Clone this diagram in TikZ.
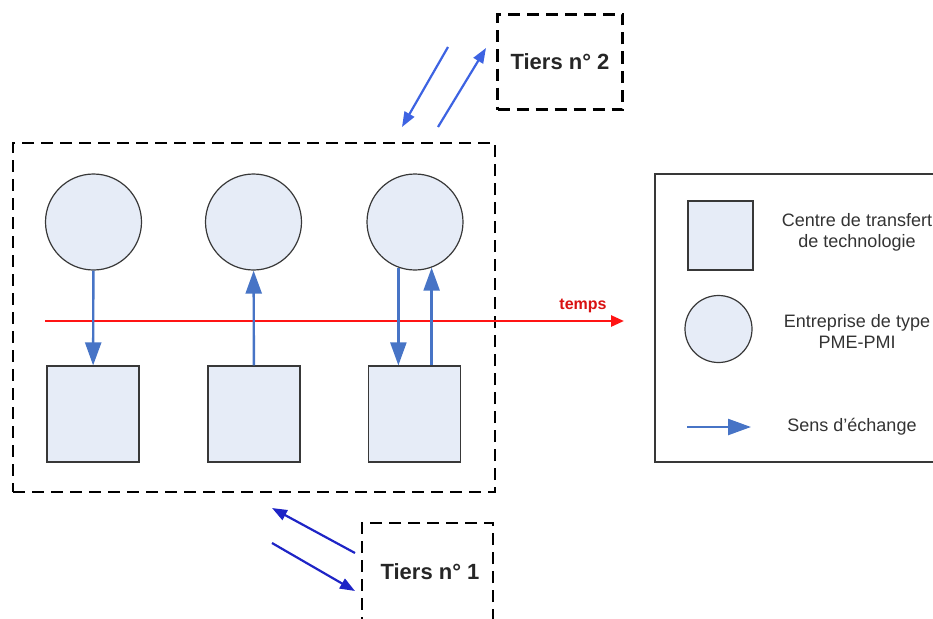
\documentclass[tikz,border=0pt]{standalone}
\usepackage{fontspec}
\setmainfont{Liberation Sans}
\usetikzlibrary{arrows.meta,positioning}

\definecolor{fond}{rgb}{0.902,0.925,0.969}
\definecolor{bord}{rgb}{0.22,0.22,0.22}
\definecolor{fleche}{rgb}{0.278,0.455,0.776}
\definecolor{vif}{rgb}{0.239,0.388,0.886}
\definecolor{fonce}{rgb}{0.118,0.141,0.776}
\definecolor{rouge}{rgb}{1,0.08,0.08}

\tikzset{
	pme/.style={circle, draw=bord, fill=fond, line width=1.2pt, minimum size=96pt, inner sep=0pt},
	centre/.style={rectangle, draw=bord, fill=fond, line width=1.2pt, minimum width=92pt, minimum height=96pt, inner sep=0pt},
	cadre/.style={rectangle, draw=black, line width=2.8pt, dash pattern=on 12pt off 7pt, inner sep=0pt},
	tiers/.style={cadre, font=\fontsize{22}{24}\selectfont\bfseries, text=black!85},
	echange/.style={draw=fleche, line width=2.4pt, -{Triangle[length=23pt, width=16pt]}},
	renvoi/.style={line width=2.2pt, -{Triangle[length=15pt, width=11pt]}},
	legtxt/.style={align=center, font=\fontsize{18}{21}\selectfont, text=black!80}
}

\begin{document}
\begin{tikzpicture}[x=1pt, y=-1pt]
	\useasboundingbox (0,0) rectangle (933,618);

	% the zone with the firms and the centres
	\node[cadre, minimum width=482pt, minimum height=349pt] (zone) at (254,317.5) {};

	\node[pme] (e1) at (93.5,222) {};
	\node[pme] (e2) at (253.5,222) {};
	\node[pme] (e3) at (415,222) {};

	\node[centre] (c1) at (93,414) {};
	\node[centre] (c2) at (254,414) {};
	\node[centre] (c3) at (414.5,414) {};

	% the time line
	\coordinate (t0) at (45,321);
	\coordinate (t1) at (624,321);
	\draw[rouge, line width=2.6pt, -{Triangle[length=13pt, width=11pt]}] (t0) -- (t1);
	\node[text=rouge!85!black, font=\fontsize{16}{18}\selectfont\bfseries] (temps) at (583,306) {temps};

	% exchanges inside the zone
	\draw[echange] (e1) -- (c1);
	\draw[echange] (c2) -- (e2);
	\draw[echange] (e3.-110) -- (e3.-110 |- c3.north);
	\draw[echange] (c3.north -| e3.-70) -- (e3.-70);

	% the two outside parties
	\node[tiers, minimum width=125pt, minimum height=95pt] (t2) at (560,62) {Tiers n° 2};
	\node[tiers, minimum width=131pt, minimum height=100pt] (t1b) at (427.5,573) {};
	\node[font=\fontsize{22}{24}\selectfont\bfseries, text=black!85] (lab1) at (430,572) {Tiers n° 1};

	% arrows to and from tiers 2
	\coordinate (a) at (448,47);
	\coordinate (b) at (402,127);
	\coordinate (c) at (438,127);
	\coordinate (d) at (486,48);
	\draw[renvoi, draw=vif] (a) -- (b);
	\draw[renvoi, draw=vif] (c) -- (d);

	% arrows to and from tiers 1
	\coordinate (f) at (355,553);
	\coordinate (g) at (272,508);
	\coordinate (h) at (272,543);
	\coordinate (k) at (355,591);
	\draw[renvoi, draw=fonce] (f) -- (g);
	\draw[renvoi, draw=fonce] (h) -- (k);

	% the legend
	\node[rectangle, draw=bord, line width=1.6pt, minimum width=290pt, minimum height=288pt] (leg) at (800,318) {};
	\node[centre, minimum width=65pt, minimum height=69pt] (lc) at (720.5,235.5) {};
	\node[pme, minimum size=67pt] (le) at (718.5,329) {};
	\coordinate (l0) at (687,427);
	\coordinate (l1) at (751,427);
	\draw[echange] (l0) -- (l1);
	\node[legtxt] (lct) at (857,232) {Centre de transfert\\de technologie};
	\node[legtxt] (let) at (857,331) {Entreprise de type\\PME-PMI};
	\node[legtxt] (lst) at (852,427) {Sens d'échange};
\end{tikzpicture}
\end{document}
